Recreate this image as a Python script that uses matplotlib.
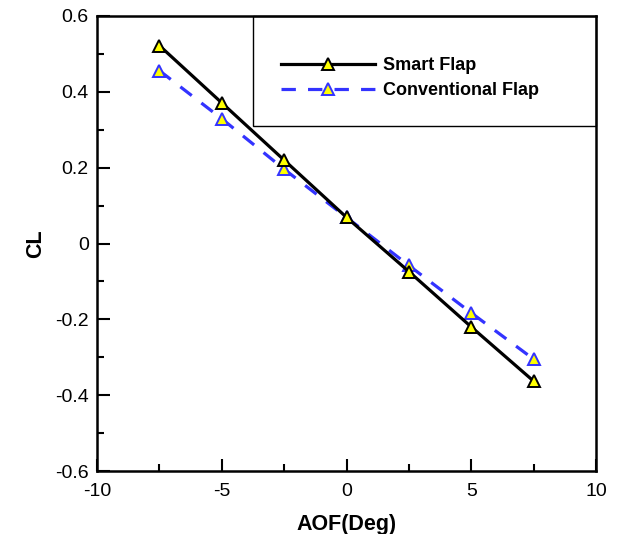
import matplotlib
matplotlib.use("Agg")
import matplotlib.pyplot as plt
from matplotlib.patches import Rectangle
from matplotlib.ticker import MultipleLocator

plt.rcParams['font.family'] = ['Liberation Sans', 'DejaVu Sans']

aof = [-7.5, -5, -2.5, 0, 2.5, 5, 7.5]
cl_smart = [0.522, 0.371, 0.220, 0.069, -0.074, -0.220, -0.363]
cl_conv = [0.456, 0.329, 0.196, 0.069, -0.058, -0.183, -0.305]
x_ticks = [-10, -5, 0, 5, 10]
y_ticks = [-0.6, -0.4, -0.2, 0, 0.2, 0.4, 0.6]
y_tick_labels = ['-0.6', '-0.4', '-0.2', '0', '0.2', '0.4', '0.6']

fig = plt.figure(figsize=(6.18, 5.34), dpi=100)
ax = fig.add_axes([97/618, 63/534, 499/618, 455/534])

ax.plot(aof, cl_smart, color='black', lw=2.3, marker='^', ms=8.5,
        mfc='#ffff00', mec='black', mew=1.4, label='Smart Flap', zorder=3)
ax.plot(aof, cl_conv, color='#3333ff', lw=2.3, ls=(0, (4.5, 3.8)), marker='^', ms=8.5,
        mfc='#ffff00', mec='#3333ff', mew=1.4, label='Conventional Flap', zorder=2)

ax.set_xlim(-10, 10)
ax.set_ylim(-0.6, 0.6)
ax.set_xticks(x_ticks)
ax.set_xticklabels([str(v) for v in x_ticks])
ax.set_yticks(y_ticks)
ax.set_yticklabels(y_tick_labels)
ax.xaxis.set_minor_locator(MultipleLocator(2.5))
ax.yaxis.set_minor_locator(MultipleLocator(0.1))
ax.tick_params(which='both', direction='in', top=False, right=False, labelsize=14, width=1.5)
ax.tick_params(axis='x', pad=9)
ax.tick_params(axis='y', pad=6)
ax.tick_params(which='major', length=9)
ax.tick_params(which='minor', length=5)
for s in ax.spines.values():
    s.set_linewidth(1.8)

ax.set_xlabel('AOF(Deg)', fontsize=15.5, fontweight='bold', labelpad=10)
ax.set_ylabel('CL', fontsize=15.5, fontweight='bold', labelpad=6)

x0 = (253 - 97) / 499
y0 = (471 - 126) / 455
ax.add_patch(Rectangle((x0, y0), 1 - x0, 1 - y0, transform=ax.transAxes,
                       fill=False, ec='black', lw=1.0, zorder=5, clip_on=False))

leg = ax.legend(loc='upper left', bbox_to_anchor=((281 - 97) / 499, (471 - 57) / 455),
                frameon=False, handlelength=5.2, handletextpad=0.45,
                labelspacing=0.45, borderpad=0, borderaxespad=0,
                prop={'weight': 'bold', 'size': 13})

fig.savefig('out.png', dpi=100)
